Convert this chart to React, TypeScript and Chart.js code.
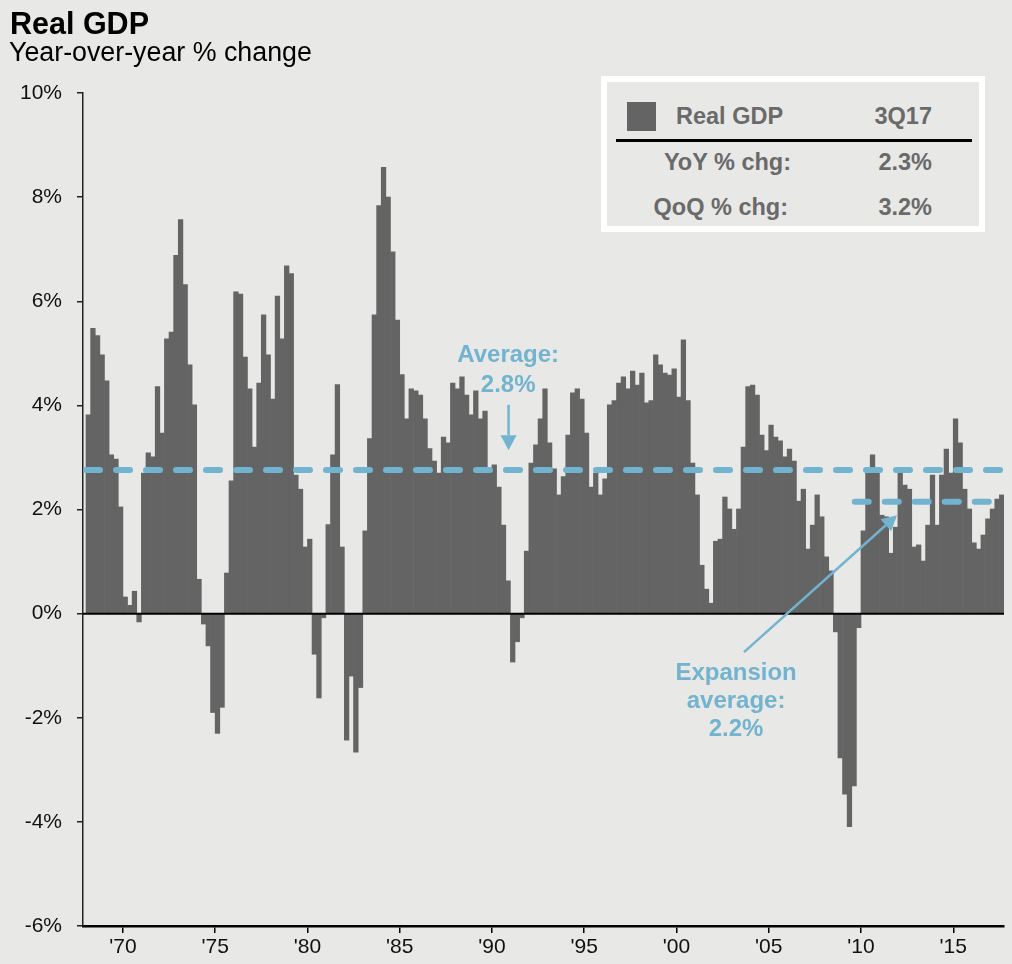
import { useEffect, useRef } from 'react';
import { Chart, registerables } from 'chart.js';

Chart.register(...registerables);

// ---------- data ----------
const START_YEAR = 1968; // first bar = 1Q68, one bar per quarter

const GDP_1968_1979 = [
  3.82, 5.48, 5.34, 4.97,
  4.47, 3.05, 2.97, 2.05,
  0.32, 0.16, 0.43, -0.16,
  2.7, 3.09, 3.01, 4.36,
  3.47, 5.28, 5.41, 6.88,
  7.57, 6.32, 4.78, 4.01,
  0.66, -0.2, -0.62, -1.9,
  -2.3, -1.8, 0.78, 2.55,
  6.18, 6.14, 4.93, 4.32,
  3.2, 4.43, 5.74, 4.97,
  4.12, 6.1, 5.28, 6.68,
  6.53, 2.66, 2.39, 1.28,
];
const GDP_1980_1989 = [
  1.43, -0.78, -1.62, -0.08,
  1.71, 3.05, 4.4, 1.28,
  -2.43, -1.2, -2.66, -1.42,
  1.59, 3.36, 5.74, 7.84,
  8.57, 8.0, 6.95, 5.64,
  4.59, 3.74, 4.32, 4.28,
  4.2, 3.74, 3.17, 2.93,
  2.7, 3.39, 3.28, 4.43,
  4.32, 4.55, 4.2, 3.82,
  4.28, 3.74, 3.89, 2.75,
];
const GDP_1990_1999 = [
  2.86, 2.43, 1.7, 0.63,
  -0.93, -0.54, -0.08, 1.2,
  2.89, 3.24, 3.74, 4.32,
  3.28, 2.78, 2.28, 2.63,
  3.43, 4.24, 4.32, 4.12,
  3.47, 2.43, 2.7, 2.28,
  2.59, 4.01, 4.09, 4.43,
  4.55, 4.32, 4.66, 4.39,
  4.62, 4.05, 4.09, 4.97,
  4.78, 4.62, 4.58, 4.7,
];
const GDP_2000_2009 = [
  4.16, 5.26, 4.09, 2.89,
  2.28, 0.93, 0.47, 0.2,
  1.39, 1.43, 2.24, 2.01,
  1.62, 2.01, 3.2, 4.36,
  4.39, 4.2, 3.43, 3.13,
  3.62, 3.39, 3.32, 3.01,
  3.16, 2.93, 2.16, 2.39,
  1.24, 1.7, 2.28, 1.86,
  1.09, 0.82, -0.35, -2.77,
  -3.47, -4.09, -3.31, -0.27,
];
const GDP_2010_2017 = [
  1.59, 2.7, 3.05, 2.7,
  1.89, 1.86, 1.16, 1.66,
  2.7, 2.47, 2.39, 1.28,
  1.32, 1.01, 1.7, 2.66,
  1.7, 2.66, 3.16, 2.7,
  3.74, 3.28, 2.39, 2.01,
  1.36, 1.24, 1.51, 1.82,
  2.01, 2.2, 2.28,
];

const GDP_YOY = [
  ...GDP_1968_1979,
  ...GDP_1980_1989,
  ...GDP_1990_1999,
  ...GDP_2000_2009,
  ...GDP_2010_2017,
];

// quarter categories, e.g. "1Q68"
const QUARTERS = GDP_YOY.map((_, i) => {
  const yr = START_YEAR + Math.floor(i / 4);
  return `${(i % 4) + 1}Q${String(yr).slice(2)}`;
});

const X_TICK_YEARS = [1970, 1975, 1980, 1985, 1990, 1995, 2000, 2005, 2010, 2015];
const X_TICK_LABELS = ["'70", "'75", "'80", "'85", "'90", "'95", "'00", "'05", "'10", "'15"];
const Y_TICKS = [-6, -4, -2, 0, 2, 4, 6, 8, 10];

const AVG_ALL = 2.76; // "Average: 2.8%"
const AVG_EXPANSION = 2.15; // "Expansion average: 2.2%"
const EXPANSION_START = 2009.5;

const LEGEND_ROWS = [
  { label: 'YoY % chg:', value: '2.3%' },
  { label: 'QoQ % chg:', value: '3.2%' },
];

// ---------- styles ----------
const BG = '#e8e8e6';
const BAR = '#646464';
const BLUE = '#72b3cf';
const LEGEND_TEXT = '#6a6a6a';
const FONT = '"Liberation Sans", Arial, Helvetica, sans-serif';

const X_MIN = 1967.837;
const X_MAX = 2017.75;

function quarterToX(q: string): number {
  const qn = parseInt(q[0], 10);
  const yy = parseInt(q.slice(2), 10);
  const yr = yy >= 50 ? 1900 + yy : 2000 + yy;
  return yr + (qn - 1) / 4 + 0.125;
}

function drawArrow(ctx: CanvasRenderingContext2D, x1: number, y1: number, x2: number, y2: number, color: string) {
  const head = 15;
  const half = 8;
  const ang = Math.atan2(y2 - y1, x2 - x1);
  const bx = x2 - head * Math.cos(ang);
  const by = y2 - head * Math.sin(ang);
  ctx.strokeStyle = color;
  ctx.fillStyle = color;
  ctx.lineWidth = 2.5;
  ctx.lineCap = 'butt';
  ctx.beginPath();
  ctx.moveTo(x1, y1);
  ctx.lineTo(bx, by);
  ctx.stroke();
  ctx.beginPath();
  ctx.moveTo(x2, y2);
  ctx.lineTo(bx + half * Math.sin(ang), by - half * Math.cos(ang));
  ctx.lineTo(bx - half * Math.sin(ang), by + half * Math.cos(ang));
  ctx.closePath();
  ctx.fill();
}

const annotationPlugin = {
  id: 'gdpAnnotations',
  afterDatasetsDraw(chart: any) {
    const { ctx, chartArea } = chart;
    const xs = chart.scales.x;
    const ys = chart.scales.y;
    ctx.save();
    // zero line
    const y0 = ys.getPixelForValue(0);
    ctx.strokeStyle = '#000';
    ctx.lineWidth = 2;
    ctx.beginPath();
    ctx.moveTo(chartArea.left, y0);
    ctx.lineTo(chartArea.right, y0);
    ctx.stroke();

    // dashed average lines
    ctx.strokeStyle = BLUE;
    ctx.lineWidth = 6;
    ctx.lineCap = 'round';
    ctx.setLineDash([14, 16]);
    const ya = ys.getPixelForValue(AVG_ALL);
    ctx.beginPath();
    ctx.moveTo(chartArea.left + 3, ya);
    ctx.lineTo(chartArea.right, ya);
    ctx.stroke();
    const ye = ys.getPixelForValue(AVG_EXPANSION);
    ctx.beginPath();
    ctx.moveTo(xs.getPixelForValue(EXPANSION_START) + 3, ye);
    ctx.lineTo(chartArea.right, ye);
    ctx.stroke();
    ctx.setLineDash([]);

    // arrows
    drawArrow(ctx, xs.getPixelForValue(1990.9), ys.getPixelForValue(4.01), xs.getPixelForValue(1990.9), ys.getPixelForValue(3.14), BLUE);
    drawArrow(ctx, xs.getPixelForValue(2003.66), ys.getPixelForValue(-0.74), xs.getPixelForValue(2011.95), ys.getPixelForValue(1.89), BLUE);

    // texts
    ctx.fillStyle = BLUE;
    ctx.font = `bold 24px ${FONT}`;
    ctx.textAlign = 'center';
    ctx.textBaseline = 'alphabetic';
    const ax = xs.getPixelForValue(1990.88);
    ctx.fillText('Average:', ax, ys.getPixelForValue(4.83));
    ctx.fillText('2.8%', ax, ys.getPixelForValue(4.26));
    const ex = xs.getPixelForValue(2003.23);
    ctx.fillText('Expansion', ex, ys.getPixelForValue(-1.27));
    ctx.fillText('average:', ex, ys.getPixelForValue(-1.81));
    ctx.fillText('2.2%', ex, ys.getPixelForValue(-2.35));
    ctx.restore();
  },
};

export default function App() {
  const ref = useRef<HTMLCanvasElement>(null);

  useEffect(() => {
    const canvas = ref.current;
    if (!canvas) return;
    const points = QUARTERS.map((q, i) => ({ x: quarterToX(q), y: GDP_YOY[i] }));
    const tickFont = { family: FONT, size: 21 };
    const chart = new Chart(canvas, {
      type: 'bar',
      data: {
        datasets: [
          {
            label: 'Real GDP',
            data: points as any,
            backgroundColor: BAR,
            borderWidth: 0,
            barPercentage: 1,
            categoryPercentage: 1,
          },
        ],
      },
      options: {
        animation: false,
        responsive: false,
        maintainAspectRatio: false,
        layout: { padding: { top: 93, right: 8, left: 0, bottom: 0 } },
        plugins: {
          legend: { display: false },
          tooltip: { enabled: false },
          title: { display: false },
        },
        scales: {
          x: {
            type: 'linear',
            min: X_MIN,
            max: X_MAX,
            offset: false,
            grid: {
              offset: false,
              drawOnChartArea: false,
              drawTicks: true,
              tickLength: 7,
              color: '#000',
              lineWidth: 1.5,
            },
            border: { display: true, color: '#000', width: 2.5 },
            ticks: {
              font: tickFont,
              color: '#111',
              padding: 2,
              autoSkip: false,
              maxRotation: 0,
              callback: (v: any) => {
                const idx = X_TICK_YEARS.indexOf(Math.round(Number(v)));
                return idx >= 0 ? X_TICK_LABELS[idx] : '';
              },
            },
            afterBuildTicks: (s: any) => {
              s.ticks = X_TICK_YEARS.map((v) => ({ value: v }));
            },
            afterFit: (s: any) => {
              s.height = 38;
            },
          } as any,
          y: {
            min: Y_TICKS[0],
            max: Y_TICKS[Y_TICKS.length - 1],
            grid: {
              drawOnChartArea: false,
              drawTicks: true,
              tickLength: 6,
              color: '#222',
              lineWidth: 1.5,
            },
            border: { display: true, color: '#222', width: 1.5 },
            ticks: {
              font: tickFont,
              color: '#111',
              padding: 15,
              stepSize: 2,
              callback: (v: any) => `${v}%`,
            },
            afterBuildTicks: (s: any) => {
              s.ticks = Y_TICKS.map((v) => ({ value: v }));
            },
            afterFit: (s: any) => {
              s.width = 83;
            },
          } as any,
        },
      },
      plugins: [annotationPlugin],
    });
    return () => chart.destroy();
  }, []);

  const legendText = {
    position: 'absolute' as const,
    fontSize: 23.5,
    lineHeight: '23.5px',
    fontWeight: 700,
    color: LEGEND_TEXT,
    whiteSpace: 'nowrap' as const,
  };

  return (
    <div
      style={{
        position: 'fixed',
        left: 0,
        top: 0,
        width: 1012,
        height: 964,
        background: BG,
        overflow: 'hidden',
        fontFamily: FONT,
      }}
    >
      <canvas ref={ref} width={1012} height={964} style={{ position: 'absolute', left: 0, top: 0, width: 1012, height: 964 }} />
      <div style={{ position: 'absolute', left: 10, top: 7.5, fontSize: 30.5, lineHeight: '30.5px', fontWeight: 700, color: '#000', whiteSpace: 'nowrap' }}>
        Real GDP
      </div>
      <div style={{ position: 'absolute', left: 9, top: 39, fontSize: 26.8, lineHeight: '26.8px', color: '#000', whiteSpace: 'nowrap' }}>
        Year-over-year % change
      </div>

      {/* legend box */}
      <div
        style={{
          position: 'absolute',
          left: 601,
          top: 76,
          width: 384,
          height: 156,
          border: '6px solid #fff',
          boxSizing: 'border-box',
          background: BG,
        }}
      />
      <div style={{ position: 'absolute', left: 627, top: 102, width: 29, height: 29, background: BAR }} />
      <div style={{ ...legendText, left: 676, top: 105 }}>Real GDP</div>
      <div style={{ ...legendText, right: 80, top: 105, textAlign: 'right' }}>3Q17</div>
      <div style={{ position: 'absolute', left: 616, top: 139, width: 356, height: 3, background: '#000' }} />
      <div style={{ ...legendText, right: 221, top: 151, textAlign: 'right' }}>{LEGEND_ROWS[0].label}</div>
      <div style={{ ...legendText, right: 80, top: 151, textAlign: 'right' }}>{LEGEND_ROWS[0].value}</div>
      <div style={{ ...legendText, right: 224, top: 196, textAlign: 'right' }}>{LEGEND_ROWS[1].label}</div>
      <div style={{ ...legendText, right: 80, top: 196, textAlign: 'right' }}>{LEGEND_ROWS[1].value}</div>
    </div>
  );
}
